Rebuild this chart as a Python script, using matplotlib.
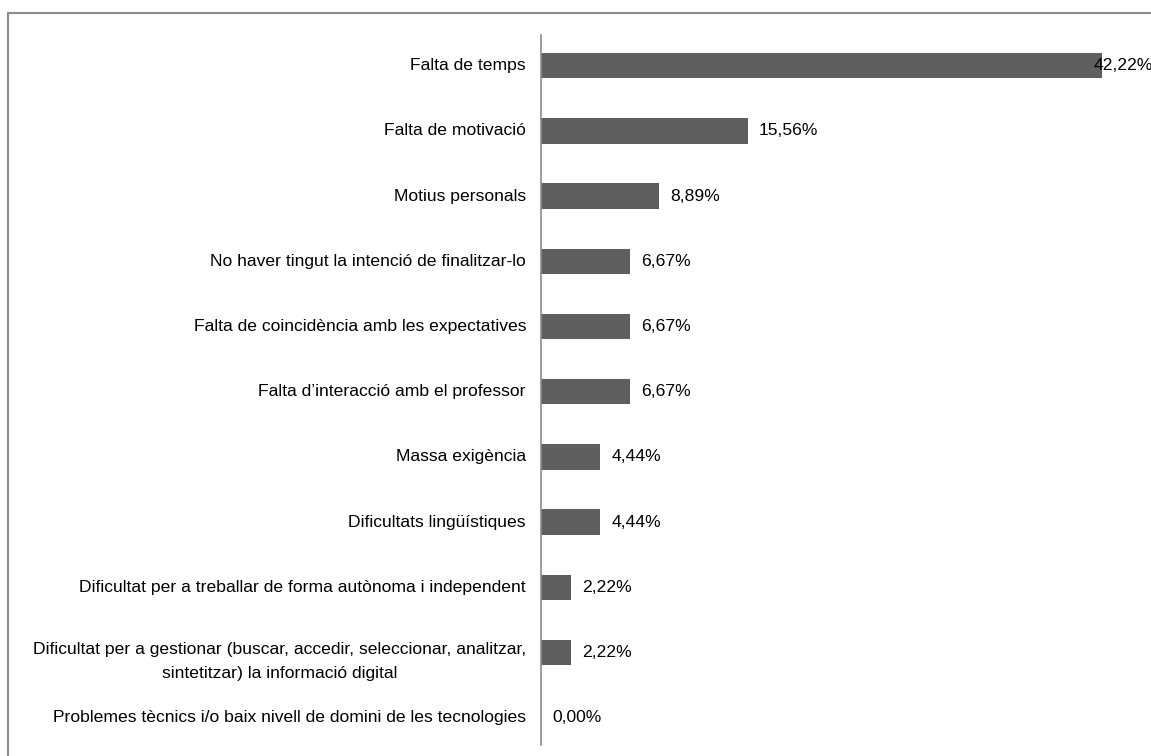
import matplotlib.pyplot as plt
from matplotlib.patches import Rectangle
from matplotlib.transforms import offset_copy

plt.rcParams['font.family'] = ['Liberation Sans', 'DejaVu Sans']

# Motius d'abandonament i percentatge de respostes
motius = [
    'Falta de temps',
    'Falta de motivació',
    'Motius personals',
    "No haver tingut la intenció de finalitzar-lo",
    'Falta de coincidència amb les expectatives',
    "Falta d’interacció amb el professor",
    'Massa exigència',
    'Dificultats lingüístiques',
    'Dificultat per a treballar de forma autònoma i independent',
    'Dificultat per a gestionar (buscar, accedir, seleccionar, analitzar,\nsintetitzar) la informació digital',
    'Problemes tècnics i/o baix nivell de domini de les tecnologies',
]
percentatges = [42.22, 15.56, 8.89, 6.67, 6.67, 6.67, 4.44, 4.44, 2.22, 2.22, 0.00]

fig = plt.figure(figsize=(11.51, 7.56), dpi=100)

# marc gris al voltant del gràfic
fig.patches.append(Rectangle((8 / 1151, -0.05), 1.1, 1 - 13 / 756 + 0.05,
                             transform=fig.transFigure, fill=False,
                             edgecolor='#8c8c8c', linewidth=1.5))

ax = fig.add_axes([541 / 1151, 11 / 756, 598 / 1151, 710 / 756])

pos = range(len(motius))
ax.barh(pos, percentatges, height=0.39, color='#5f5f5f')

ax.set_ylim(10.42, -0.47)
ax.set_xlim(0, 45)

for s in ['top', 'right', 'bottom']:
    ax.spines[s].set_visible(False)
ax.spines['left'].set_color('#8c8c8c')
ax.spines['left'].set_linewidth(1.2)

ax.set_xticks([])
ax.set_yticks([])

# etiquetes de categoria a l'esquerra de l'eix
trans = offset_copy(ax.get_yaxis_transform(), fig=fig, x=-15, y=0, units='dots')
trans2 = offset_copy(ax.get_yaxis_transform(), fig=fig, x=-15, y=-9, units='dots')
for i, m in enumerate(motius):
    ax.text(0, i, m, transform=trans2 if '\n' in m else trans,
            ha='right', va='center', fontsize=12.6,
            multialignment='center', linespacing=1.8)

for i, v in enumerate(percentatges):
    text = f'{v:.2f}%'.replace('.', ',')
    if v > 40:
        ax.text(v - 0.6, i, text, va='center', ha='left', fontsize=12.6)
    else:
        ax.text(v + 0.85, i, text, va='center', ha='left', fontsize=12.6)

fig.savefig('out.png', dpi=100)
